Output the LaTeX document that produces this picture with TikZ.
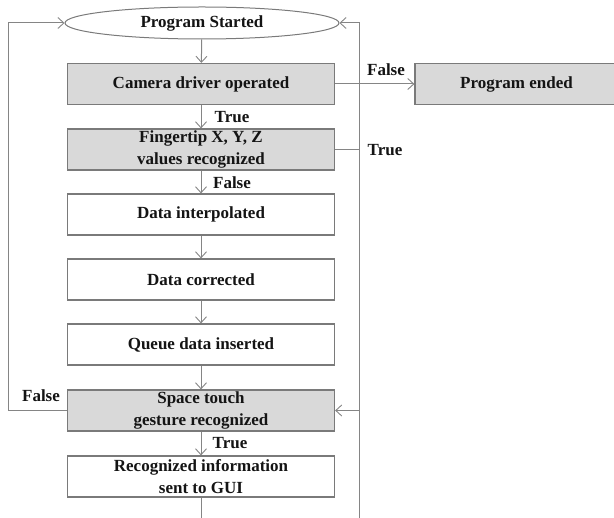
\documentclass[tikz,border=0pt]{standalone}
\usepackage{fontspec}
\setmainfont{Liberation Serif}
\usetikzlibrary{arrows.meta,shapes.geometric}

\definecolor{boxfill}{HTML}{D9D9D9}
\definecolor{boxline}{HTML}{7A7A7A}
\definecolor{wire}{HTML}{858585}
\definecolor{ink}{HTML}{141414}

\tikzset{
  base/.style={draw=boxline, line width=1.2pt, text=ink, inner sep=0pt,
    align=center, font=\fontsize{17}{21.5}\selectfont\bfseries},
  procbox/.style={base, rectangle, minimum width=267pt, minimum height=41pt, fill=white},
  decbox/.style={procbox, fill=boxfill},
  endbox/.style={base, rectangle, minimum width=203pt, minimum height=41pt, fill=boxfill},
  startnode/.style={base, ellipse, line width=1pt, minimum width=274pt, minimum height=32pt, fill=white},
  wireline/.style={draw=wire, line width=1pt},
  flow/.style={wireline, -{Straight Barb[length=6pt,width=11pt,line width=0.9pt]}},
  tag/.style={text=ink, inner sep=0pt, font=\fontsize{17}{20}\selectfont\bfseries}
}

\begin{document}
\begin{tikzpicture}[x=1pt,y=-1pt]
  \useasboundingbox (0,0) rectangle (614,518);
  \begin{scope}
  \clip (0,0) rectangle (614,518);

  % main column of steps
  \node[startnode] (start) at (202,23) {Program Started};
  \node[decbox] (cam) at (201,84) {Camera driver operated};
  \node[endbox] (stop) at (516.5,84) {Program ended};
  \node[decbox] (finger) at (201,149.5) {Fingertip X, Y, Z\\values recognized};
  \node[procbox] (interp) at (201,214.5) {Data interpolated};
  \node[procbox] (correct) at (201,279.5) {Data corrected};
  \node[procbox] (queue) at (201,344.5) {Queue data inserted};
  \node[decbox] (gesture) at (201,410.5) {Space touch\\gesture recognized};
  \node[procbox] (gui) at (201,476.5) {Recognized information\\sent to GUI};

  % free ends and corners of the loop lines
  \coordinate (guiout) at (201,520);
  \coordinate (rbottom) at (359,520);
  \coordinate (rtop) at (359,23);
  \coordinate (rfinger) at (359,149.5);
  \coordinate (rgesture) at (359,410.5);
  \coordinate (lcorner) at (8,410.5);

  % straight flow down the column
  \draw[flow] (start) -- (cam);
  \draw[flow] (cam) -- (finger);
  \draw[flow] (finger) -- (interp);
  \draw[flow] (interp) -- (correct);
  \draw[flow] (correct) -- (queue);
  \draw[flow] (queue) -- (gesture);
  \draw[flow] (gesture) -- (gui);
  \draw[wireline] (gui) -- (guiout);

  % branch to the end of the program
  \draw[flow] (cam) -- (stop);

  % right-hand return line
  \draw[flow] (rbottom) -- (rtop) -- (start.east);
  \draw[wireline] (finger.east) -- (rfinger);
  \draw[flow] (rgesture) -- (gesture.east);

  % left-hand return line
  \draw[flow] (gesture.west) -- (lcorner) |- (start.west);

  % branch labels
  \node[tag] (lfalse1) at (386,70) {False};
  \node[tag] (ltrue1) at (232,117) {True};
  \node[tag] (ltrue2) at (385,150) {True};
  \node[tag] (lfalse2) at (232,183) {False};
  \node[tag] (lfalse3) at (41,396) {False};
  \node[tag] (ltrue3) at (230,443) {True};
  \end{scope}
\end{tikzpicture}
\end{document}
